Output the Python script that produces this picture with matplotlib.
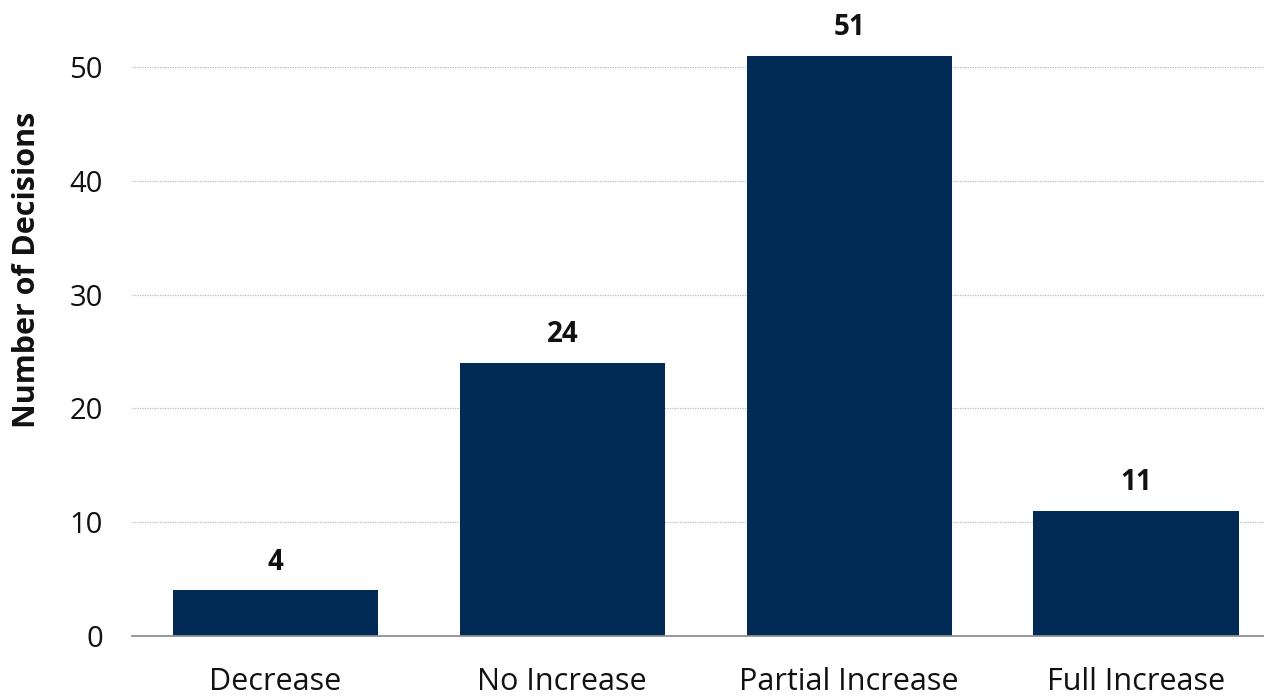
import matplotlib
matplotlib.use("Agg")
import matplotlib.pyplot as plt

categories = ["Decrease", "No Increase", "Partial Increase", "Full Increase"]
decisions = [4, 24, 51, 11]
y_ticks = [0, 10, 20, 30, 40, 50]

plt.rcParams["font.family"] = ["Open Sans", "DejaVu Sans"]

fig = plt.figure(figsize=(12.64, 7.0), dpi=100)
ax = fig.add_axes([132 / 1264, 64 / 700, 1132 / 1264, 626 / 700])

x = range(len(categories))
ax.bar(x, decisions, width=0.715, color="#012B55", zorder=3)

for xi, v in zip(x, decisions):
    ax.annotate(str(v), (xi, v), xytext=(0, 10), textcoords="offset points",
                ha="center", va="bottom", fontsize=20, fontweight="bold",
                color="#111111")

ax.set_xlim(-0.5, 3.446)
ax.set_ylim(0, 55)
ax.set_yticks(y_ticks)
ax.set_xticks(list(x))
ax.set_xticklabels(categories)

ax.tick_params(axis="x", length=0, pad=22, labelsize=22, labelcolor="#111111")
ax.tick_params(axis="y", length=0, pad=21, labelsize=21, labelcolor="#111111")

ax.yaxis.grid(True, linestyle=(0, (1, 1)), color="#BBBBBB", linewidth=0.9, zorder=0)
ax.xaxis.grid(False)
for side in ("top", "right", "left"):
    ax.spines[side].set_visible(False)
ax.spines["bottom"].set_color("#8C9196")
ax.spines["bottom"].set_linewidth(1.3)
ax.spines["bottom"].set_zorder(4)

ax.set_ylabel("Number of Decisions", fontsize=22, fontweight="bold",
              color="#111111")
ax.yaxis.set_label_coords((42 - 132) / 1132, (636 - 270) / 626)

fig.savefig("out.png", dpi=100, facecolor="white")
